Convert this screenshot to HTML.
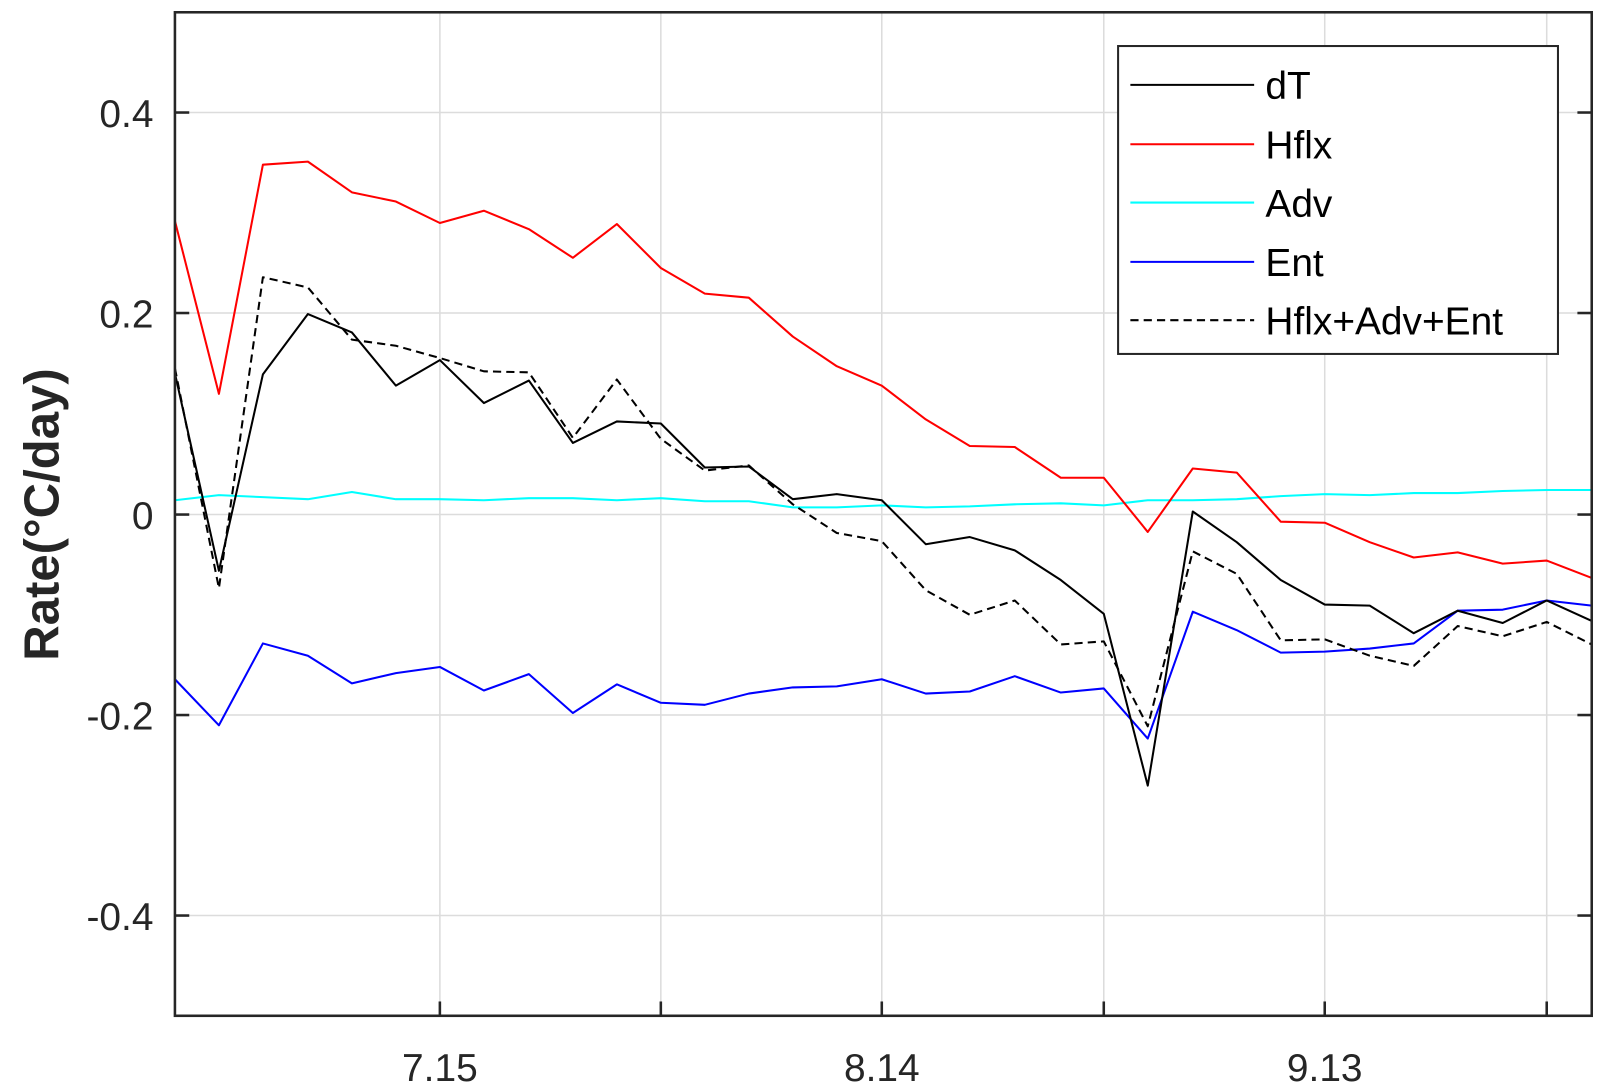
<!DOCTYPE html>
<html><head><style>html,body{margin:0;padding:0;background:#fff}svg{display:block}</style></head>
<body>
<svg width="1604" height="1092" viewBox="0 0 1568 1067.5" preserveAspectRatio="none" xmlns="http://www.w3.org/2000/svg" font-family="Liberation Sans, Arial, sans-serif">
<rect width="1568" height="1068" fill="#fff"/>
<g stroke="#dcdcdc" stroke-width="1.5">
<line x1="430" y1="12" x2="430" y2="993"/><line x1="646" y1="12" x2="646" y2="993"/><line x1="862" y1="12" x2="862" y2="993"/><line x1="1079" y1="12" x2="1079" y2="993"/><line x1="1295" y1="12" x2="1295" y2="993"/><line x1="1512" y1="12" x2="1512" y2="993"/>
<line x1="171" y1="110" x2="1556" y2="110"/><line x1="171" y1="306" x2="1556" y2="306"/><line x1="171" y1="503" x2="1556" y2="503"/><line x1="171" y1="699" x2="1556" y2="699"/><line x1="171" y1="895" x2="1556" y2="895"/>
</g>
<g fill="none" stroke-width="2" stroke-linejoin="round">
<polyline stroke="#00ffff" points="171,489 214,484 257,486 301,488 344,481 387,488 430,488 473,489 517,487 560,487 603,489 646,487 689,490 732,490 775,496 818,496 862,494 905,496 948,495 992,493 1037,492 1079,494 1122,489 1166,489 1209,488 1252,485 1295,483 1339,484 1382,482 1425,482 1469,480 1512,479 1556,479"/>
<polyline stroke="#ff0000" points="171,216 214,385 257,161 301,158 344,188 387,197 430,218 473,206 517,224 560,252 603,219 646,262 689,287 732,291 775,329 818,358 862,377 905,410 948,436 992,437 1037,467 1079,467 1122,520 1166,458 1209,462 1252,510 1295,511 1339,530 1382,545 1425,540 1469,551 1512,548 1556,565"/>
<polyline stroke="#0000ff" points="171,664 214,709 257,629 301,641 344,668 387,658 430,652 473,675 517,659 560,697 603,669 646,687 689,689 732,678 775,672 818,671 862,664 905,678 948,676 992,661 1037,677 1079,673 1122,722 1166,598 1209,616 1252,638 1295,637 1339,634 1382,629 1425,597 1469,596 1512,587 1556,592"/>
<polyline stroke="#000" points="171,365 214,558 257,366 301,307 344,325 387,377 430,352 473,394 517,372 560,433 603,412 646,414 689,457 732,456 775,488 818,483 862,489 905,532 948,525 992,538 1037,567 1079,600 1122,768 1166,500 1209,530 1252,567 1295,591 1339,592 1382,619 1425,597 1469,609 1512,587 1556,607"/>
<polyline stroke="#000" stroke-dasharray="8,5" points="171,360 214,575 257,271 301,281 344,332 387,338 430,350 473,363 517,364 560,428 603,371 646,429 689,460 732,455 775,493 818,521 862,529 905,577 948,601 992,587 1037,630 1079,627 1122,710 1166,539 1209,561 1252,626 1295,625 1339,641 1382,651 1425,612 1469,622 1512,608 1556,630"/>
</g>
<rect x="171" y="12" width="1385" height="981" fill="none" stroke="#262626" stroke-width="2.5"/>
<g stroke="#262626" stroke-width="2.5">
<line x1="430" y1="993" x2="430" y2="979"/><line x1="646" y1="993" x2="646" y2="979"/><line x1="862" y1="993" x2="862" y2="979"/><line x1="1079" y1="993" x2="1079" y2="979"/><line x1="1295" y1="993" x2="1295" y2="979"/><line x1="1512" y1="993" x2="1512" y2="979"/>
<line x1="171" y1="110" x2="185" y2="110"/><line x1="171" y1="306" x2="185" y2="306"/><line x1="171" y1="503" x2="185" y2="503"/><line x1="171" y1="699" x2="185" y2="699"/><line x1="171" y1="895" x2="185" y2="895"/>
<line x1="1556" y1="110" x2="1542" y2="110"/><line x1="1556" y1="306" x2="1542" y2="306"/><line x1="1556" y1="503" x2="1542" y2="503"/><line x1="1556" y1="699" x2="1542" y2="699"/><line x1="1556" y1="895" x2="1542" y2="895"/>
</g>
<g font-size="38" fill="#262626" text-anchor="end">
<text x="150" y="124">0.4</text><text x="150" y="320">0.2</text><text x="150" y="517">0</text><text x="150" y="713">-0.2</text><text x="150" y="909">-0.4</text>
</g>
<g font-size="38" fill="#262626" text-anchor="middle">
<text x="430" y="1057">7.15</text><text x="862" y="1057">8.14</text><text x="1295" y="1057">9.13</text>
</g>
<text transform="translate(57,503) rotate(-90)" font-size="48" font-weight="bold" text-anchor="middle" fill="#262626">Rate(°C/day)</text>
<rect x="1093" y="45" width="430" height="301" fill="#fff" stroke="#262626" stroke-width="2"/>
<g stroke-width="2">
<line x1="1105" y1="83" x2="1226" y2="83" stroke="#000"/>
<line x1="1105" y1="141" x2="1226" y2="141" stroke="#f00"/>
<line x1="1105" y1="198" x2="1226" y2="198" stroke="#0ff"/>
<line x1="1105" y1="256" x2="1226" y2="256" stroke="#00f"/>
<line x1="1105" y1="313" x2="1226" y2="313" stroke="#000" stroke-dasharray="8,5"/>
</g>
<g font-size="38" fill="#000">
<text x="1237" y="97">dT</text><text x="1237" y="155">Hflx</text><text x="1237" y="212">Adv</text><text x="1237" y="270">Ent</text><text x="1237" y="327">Hflx+Adv+Ent</text>
</g>
</svg>
</body></html>
